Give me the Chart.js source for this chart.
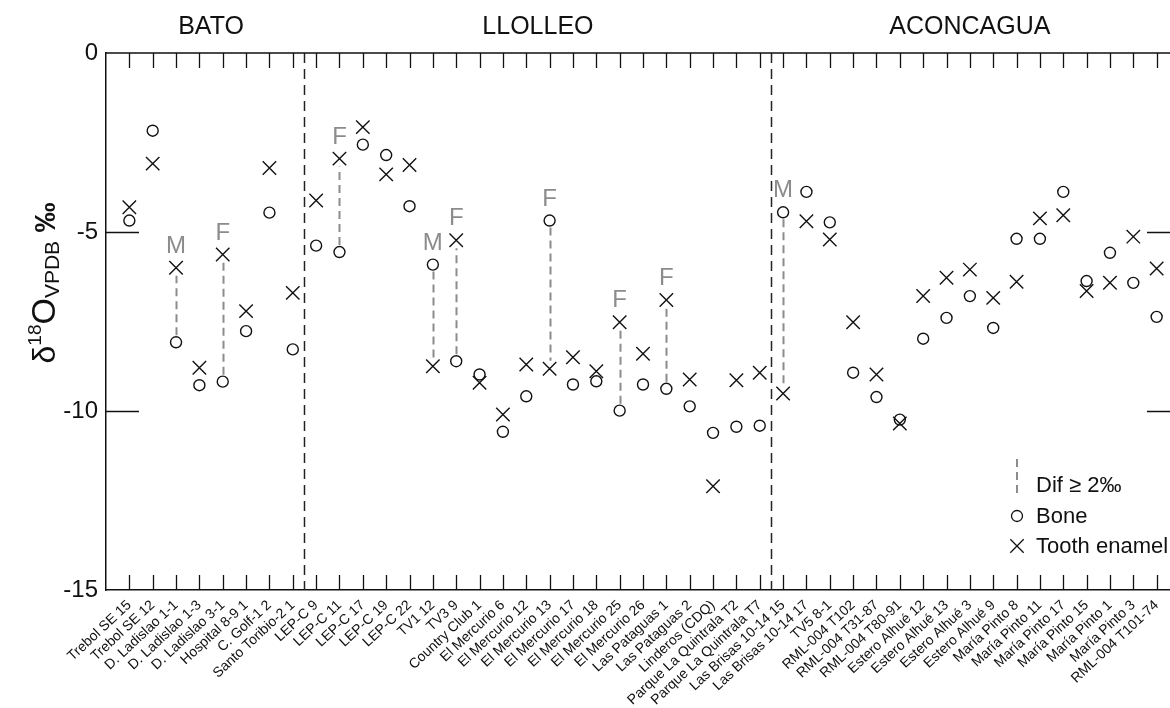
<!DOCTYPE html>
<html>
<head>
<meta charset="utf-8">
<script src="https://cdn.jsdelivr.net/npm/chart.js@4/dist/chart.umd.min.js"></script>
<style>
  html, body { margin: 0; padding: 0; background: #fff; overflow: hidden; width: 1170px; height: 708px; }
  canvas { display: block; }
</style>
</head>
<body>
<canvas id="c" width="1200" height="708"></canvas>
<script>
// Samples, left to right
const categories = [
  'Trebol SE 15', 'Trebol SE 12', 'D. Ladislao 1-1', 'D. Ladislao 1-3', 'D. Ladislao 3-1',
  'Hospital 8-9 1', 'C. Golf-1 2', 'Santo Toribio-2 1',
  'LEP-C 9', 'LEP-C 11', 'LEP-C 17', 'LEP-C 19', 'LEP-C 22', 'TV1 12', 'TV3 9',
  'Country Club 1', 'El Mercurio 6', 'El Mercurio 12', 'El Mercurio 13', 'El Mercurio 17',
  'El Mercurio 18', 'El Mercurio 25', 'El Mercurio 26', 'Las Pataguas 1', 'Las Pataguas 2',
  'Linderos (CDQ)', 'Parque La Quintrala T2', 'Parque La Quintrala T7',
  'Las Brisas 10-14 15', 'Las Brisas 10-14 17', 'TV5 8-1', 'RML-004 T102', 'RML-004 T31-87',
  'RML-004 T80-91', 'Estero Alhué 12', 'Estero Alhué 13', 'Estero Alhué 3', 'Estero Alhué 9',
  'María Pinto 8', 'María Pinto 11', 'María Pinto 17', 'María Pinto 15', 'María Pinto 1',
  'María Pinto 3', 'RML-004 T101-74'
];

// δ18O (VPDB, ‰) of bone
const bone = [
  -4.68, -2.17, -8.08, -9.28, -9.18, -7.77, -4.46, -8.28,
  -5.38, -5.56, -2.56, -2.85, -4.28, -5.91, -8.61, -8.98, -10.58, -9.59, -4.68, -9.26,
  -9.17, -9.99, -9.26, -9.38, -9.87, -10.61, -10.44, -10.41,
  -4.45, -3.88, -4.73, -8.93, -9.61, -10.24, -7.98, -7.40, -6.79, -7.68,
  -5.19, -5.19, -3.88, -6.37, -5.58, -6.42, -7.37
];

// δ18O (VPDB, ‰) of tooth enamel
const enamel = [
  -4.31, -3.09, -6.00, -8.79, -5.63, -7.21, -3.21, -6.70,
  -4.12, -2.95, -2.07, -3.39, -3.13, -8.75, -5.23, -9.21, -10.10, -8.70, -8.82, -8.50,
  -8.89, -7.52, -8.40, -6.90, -9.12, -12.10, -9.14, -8.93,
  -9.51, -4.70, -5.21, -7.52, -8.98, -10.35, -6.79, -6.28, -6.05, -6.84,
  -6.39, -4.62, -4.53, -6.65, -6.42, -5.13, -6.02
];

// Sex of the individual, where known
const sexTags = [
  '', '', 'M', '', 'F', '', '', '',
  '', 'F', '', '', '', 'M', 'F', '', '', '', 'F', '',
  '', 'F', '', 'F', '', '', '', '',
  'M', '', '', '', '', '', '', '', '', '',
  '', '', '', '', '', '', ''
];

// Cultural groups and how many consecutive samples each covers
const groupNames = ['BATO', 'LLOLLEO', 'ACONCAGUA'];
const groupSizes = [8, 20, 17];

const yTicks = [0, -5, -10, -15];
const difThreshold = 2;

const FONT = "'Liberation Sans', Arial, Helvetica, sans-serif";
const GREY = '#8c8c8c';

const bonePoints = bone.map((v, i) => ({ x: i + 1, y: v }));
const enamelPoints = enamel.map((v, i) => ({ x: i + 1, y: v }));

const decorations = {
  id: 'decorations',
  beforeDatasetsDraw(chart) {
    const { ctx, chartArea: a, scales: { x, y } } = chart;
    ctx.save();
    // Group separators
    ctx.strokeStyle = '#222';
    ctx.lineWidth = 1.5;
    ctx.setLineDash([10, 6]);
    let start = 0;
    groupSizes.slice(0, -1).forEach(n => {
      start += n;
      const px = Math.round(x.getPixelForValue(start + 0.5)) + 0.5;
      ctx.beginPath();
      ctx.moveTo(px, a.top);
      ctx.lineTo(px, a.bottom);
      ctx.stroke();
    });
    // Bone / enamel differences of at least 2 ‰
    ctx.strokeStyle = GREY;
    ctx.lineWidth = 2;
    ctx.setLineDash([8, 5]);
    bone.forEach((b, i) => {
      const e = enamel[i];
      if (Math.abs(b - e) < difThreshold) return;
      const px = Math.round(x.getPixelForValue(i + 1)) + 0.5;
      const yb = y.getPixelForValue(b);
      const ye = y.getPixelForValue(e);
      const dir = Math.sign(ye - yb);
      ctx.beginPath();
      ctx.moveTo(px, yb + dir * 7);
      ctx.lineTo(px, ye - dir * 8);
      ctx.stroke();
    });
    ctx.restore();
  },
  afterDraw(chart) {
    const { ctx, chartArea: a, scales: { x, y } } = chart;
    ctx.save();
    ctx.strokeStyle = '#111';
    ctx.lineWidth = 1.5;
    ctx.setLineDash([]);
    // Frame top and right
    ctx.beginPath();
    ctx.moveTo(a.left, a.top);
    ctx.lineTo(a.right, a.top);
    ctx.lineTo(a.right, a.bottom);
    ctx.stroke();
    // Inner tick marks on top and bottom
    ctx.lineWidth = 1.3;
    categories.forEach((_, i) => {
      const px = Math.round(x.getPixelForValue(i + 1)) + 0.5;
      ctx.beginPath();
      ctx.moveTo(px, a.top);
      ctx.lineTo(px, a.top + 15);
      ctx.moveTo(px, a.bottom);
      ctx.lineTo(px, a.bottom - 15);
      ctx.stroke();
    });
    // Inner tick marks on left and right
    yTicks.forEach(v => {
      if (v === y.max || v === y.min) return;
      const py = Math.round(y.getPixelForValue(v)) + 0.5;
      ctx.beginPath();
      ctx.moveTo(a.left, py);
      ctx.lineTo(a.left + 33, py);
      ctx.moveTo(a.right, py);
      ctx.lineTo(a.right - 33, py);
      ctx.stroke();
    });

    // Group names
    ctx.fillStyle = '#111';
    ctx.font = `25px ${FONT}`;
    ctx.textAlign = 'center';
    ctx.textBaseline = 'alphabetic';
    let first = 1;
    groupNames.forEach((name, g) => {
      const last = first + groupSizes[g] - 1;
      ctx.fillText(name, x.getPixelForValue((first + last) / 2), 34);
      first = last + 1;
    });

    // Sex tags above each pair
    ctx.fillStyle = GREY;
    ctx.font = `24px ${FONT}`;
    sexTags.forEach((t, i) => {
      if (!t) return;
      const top = Math.max(bone[i], enamel[i]);
      ctx.fillText(t, x.getPixelForValue(i + 1), y.getPixelForValue(top) - 15);
    });

    // Legend
    const lx = a.right - 163;
    ctx.strokeStyle = GREY;
    ctx.lineWidth = 2;
    ctx.setLineDash([8, 5]);
    ctx.beginPath();
    ctx.moveTo(lx, a.bottom - 131);
    ctx.lineTo(lx, a.bottom - 92);
    ctx.stroke();
    ctx.setLineDash([]);
    ctx.strokeStyle = '#111';
    ctx.lineWidth = 1.3;
    ctx.beginPath();
    ctx.arc(lx, a.bottom - 74, 5.5, 0, Math.PI * 2);
    ctx.stroke();
    const cy = a.bottom - 44, r = 6.7;
    ctx.beginPath();
    ctx.moveTo(lx - r, cy - r); ctx.lineTo(lx + r, cy + r);
    ctx.moveTo(lx - r, cy + r); ctx.lineTo(lx + r, cy - r);
    ctx.stroke();
    ctx.fillStyle = '#111';
    ctx.font = `22px ${FONT}`;
    ctx.textAlign = 'left';
    ctx.textBaseline = 'middle';
    ctx.fillText('Dif \u2265 2\u2030', lx + 19, a.bottom - 104);
    ctx.fillText('Bone', lx + 19, a.bottom - 73);
    ctx.fillText('Tooth enamel', lx + 19, a.bottom - 43);

    // Y axis title: δ18O VPDB ‰
    ctx.save();
    ctx.translate(55, 283);
    ctx.rotate(-Math.PI / 2);
    ctx.textAlign = 'left';
    ctx.textBaseline = 'alphabetic';
    ctx.fillStyle = '#111';
    const parts = [
      { t: '\u03b4', f: `32px ${FONT}`, dy: 0 },
      { t: '18', f: `19px ${FONT}`, dy: -14 },
      { t: 'O', f: `34px ${FONT}`, dy: 0 },
      { t: 'VPDB', f: `21px ${FONT}`, dy: 4 },
      { t: ' \u2030', f: `bold 30px ${FONT}`, dy: 0 }
    ];
    let w = 0;
    parts.forEach(p => { ctx.font = p.f; w += ctx.measureText(p.t).width; });
    let tx = -w / 2;
    parts.forEach(p => {
      ctx.font = p.f;
      ctx.fillText(p.t, tx, p.dy);
      tx += ctx.measureText(p.t).width;
    });
    ctx.restore();
    ctx.restore();
  }
};

new Chart(document.getElementById('c'), {
  type: 'scatter',
  data: {
    datasets: [
      {
        label: 'Bone',
        data: bonePoints,
        pointStyle: 'circle',
        pointRadius: 5.5,
        pointBorderWidth: 1.4,
        borderColor: '#111',
        backgroundColor: 'rgba(255,255,255,0)'
      },
      {
        label: 'Tooth enamel',
        data: enamelPoints,
        pointStyle: 'crossRot',
        pointRadius: 9.5,
        pointBorderWidth: 1.4,
        borderColor: '#111',
        backgroundColor: '#111'
      }
    ]
  },
  options: {
    responsive: false,
    animation: false,
    events: [],
    layout: { padding: { top: 53, right: 20, left: 0, bottom: 0 } },
    plugins: { legend: { display: false }, tooltip: { enabled: false } },
    scales: {
      x: {
        type: 'linear',
        min: 0,
        max: categories.length + 1,
        afterBuildTicks(scale) {
          scale.ticks = categories.map((_, i) => ({ value: i + 1 }));
        },
        afterFit(scale) { scale.height = 118; },
        ticks: {
          autoSkip: false,
          minRotation: 43,
          maxRotation: 43,
          padding: 7,
          color: '#111',
          font: { family: FONT, size: 14 },
          callback: v => categories[v - 1] || ''
        },
        grid: { drawOnChartArea: false, drawTicks: false },
        border: { display: true, color: '#111', width: 1.5 }
      },
      y: {
        min: -15,
        max: 0,
        afterBuildTicks(scale) {
          scale.ticks = yTicks.map(v => ({ value: v }));
        },
        afterFit(scale) { scale.width = 106; },
        ticks: {
          padding: 8,
          color: '#111',
          font: { family: FONT, size: 24 }
        },
        grid: { drawOnChartArea: false, drawTicks: false },
        border: { display: true, color: '#111', width: 1.5 }
      }
    }
  },
  plugins: [decorations]
});
</script>
</body>
</html>
